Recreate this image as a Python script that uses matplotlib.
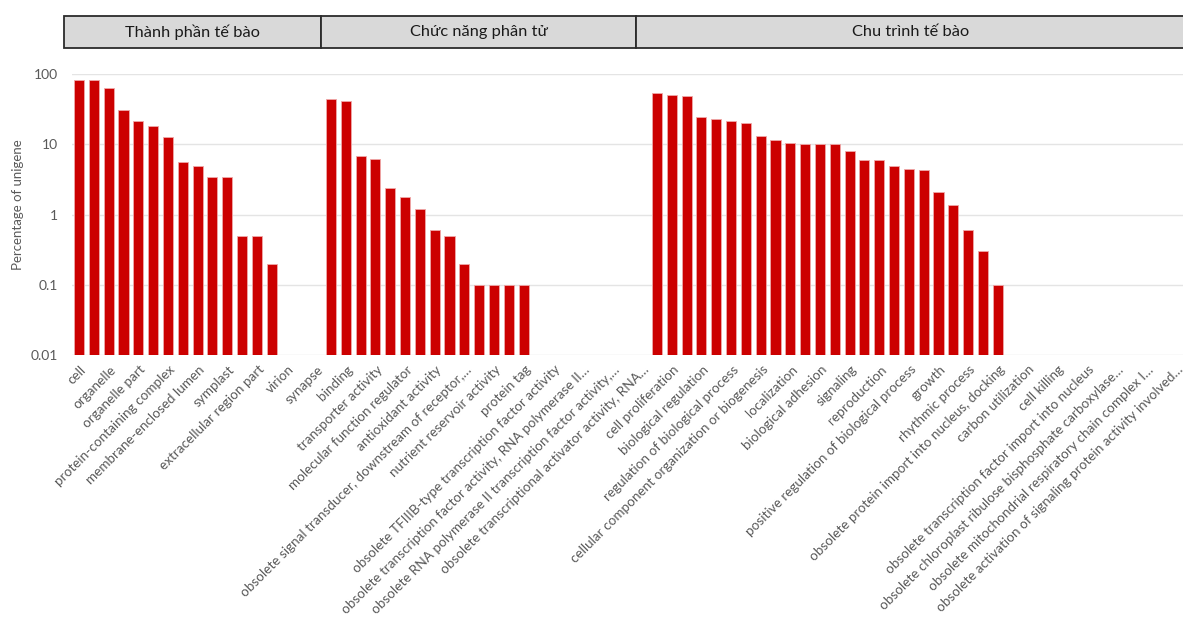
import numpy as np
import matplotlib
matplotlib.use("Agg")
import matplotlib.pyplot as plt
from matplotlib.patches import Rectangle
from matplotlib.ticker import FixedLocator, NullLocator, FuncFormatter
from matplotlib.transforms import blended_transform_factory, ScaledTranslation

plt.rcParams['font.family'] = ['Lato', 'DejaVu Sans']

# GO level-2 categories, grouped by ontology
group_names = ["Thành phần tế bào", "Chức năng phân tử", "Chu trình tế bào"]

cc_terms = [
    "cell", "cell part", "organelle", "membrane", "organelle part",
    "membrane part", "protein-containing complex", "extracellular region",
    "membrane-enclosed lumen", "supramolecular complex", "symplast",
    "cell junction", "extracellular region part", "nucleoid", "virion",
    "virion part", "synapse",
]
cc_values = [82.6, 82.6, 63.6, 30.6, 21.3, 18.1, 12.6, 5.5, 4.9, 3.47, 3.4,
             0.5, 0.5, 0.2, 0, 0, 0]

mf_terms = [
    "catalytic activity", "binding", "structural molecule activity",
    "transporter activity", "transcription regulator activity",
    "molecular function regulator", "signal transducer activity",
    "antioxidant activity", "molecular carrier activity",
    "obsolete signal transducer, downstream of receptor,…",
    "translation regulator activity", "nutrient reservoir activity",
    "toxin activity", "protein tag", "cargo receptor activity",
    "obsolete TFIIIB-type transcription factor activity",
    "molecular transducer activity",
    "obsolete transcription factor activity, RNA polymerase II…",
    "obsolete metallochaperone activity",
    "obsolete RNA polymerase II transcription factor activity,…",
    "obsolete protein binding transcription factor activity",
    "obsolete transcriptional activator activity, RNA…",
]
mf_values = [43.4, 41.1, 6.8, 6.2, 2.4, 1.8, 1.2, 0.6, 0.5, 0.2, 0.1, 0.1,
             0.1, 0.1, 0, 0, 0, 0, 0, 0, 0, 0]

bp_terms = [
    "cellular process", "cell proliferation", "metabolic process",
    "biological regulation", "response to stimulus",
    "regulation of biological process", "developmental process",
    "cellular component organization or biogenesis",
    "multicellular organismal process", "localization",
    "multi-organism process", "biological adhesion",
    "negative regulation of biological process", "signaling",
    "immune system process", "reproduction", "reproductive process",
    "positive regulation of biological process", "locomotion", "growth",
    "detoxification", "rhythmic process", "pigmentation",
    "obsolete protein import into nucleus, docking", "behavior",
    "carbon utilization", "nitrogen utilization", "cell killing",
    "obsolete viral reproduction",
    "obsolete transcription factor import into nucleus",
    "obsolete cell wall organization or biogenesis",
    "obsolete chloroplast ribulose bisphosphate carboxylase…",
    "obsolete single-organism process",
    "obsolete mitochondrial respiratory chain complex I…",
    "obsolete cell aggregation",
    "obsolete activation of signaling protein activity involved…",
]
bp_values = [54, 50.5, 48.9, 24.3, 23, 21.3, 20.2, 12.9, 11.4, 10.4, 10, 10,
             10, 8.05, 6.0, 6.0, 4.9, 4.4, 4.3, 2.1, 1.38, 0.6, 0.3, 0.1,
             0, 0, 0, 0, 0, 0, 0, 0, 0, 0, 0, 0]

terms = cc_terms + mf_terms + bp_terms
values = cc_values + mf_values + bp_values
x = np.arange(len(terms))

W, H = 1183, 618
fig = plt.figure(figsize=(W / 100, H / 100), dpi=100)
ax = fig.add_axes([71.6 / W, 1 - 355 / H, 1 - 71.6 / W, 281 / H])

ax.bar(x, values, width=0.68, color='#CC0000', edgecolor='#EFA8A8',
       linewidth=0.6, zorder=2)
ax.set_yscale('log')
ax.set_ylim(0.01, 100)
ax.set_xlim(-0.5, len(terms) - 0.5)

ax.yaxis.set_major_locator(FixedLocator([0.01, 0.1, 1, 10, 100]))
ax.yaxis.set_minor_locator(NullLocator())
ax.yaxis.set_major_formatter(FuncFormatter(lambda v, _: f"{v:g}"))
ax.grid(axis='y', color='#E4E4E4', linewidth=1.0, zorder=0)
for s in ax.spines.values():
    s.set_visible(False)
ax.tick_params(axis='both', length=0, colors='#595959', labelsize=10)
ax.tick_params(axis='y', pad=10)

# every other category carries a label
ax.set_xticks(x[::2])
ax.set_xticklabels(terms[::2], rotation=45, ha='right', va='top',
                   rotation_mode='anchor', fontsize=9.7, color='#595959')
ax.tick_params(axis='x', pad=6)
shift = ScaledTranslation(0.01, 0, fig.dpi_scale_trans)
for lab in ax.get_xticklabels():
    lab.set_transform(lab.get_transform() + shift)

fig.text(18 / W, 1 - 205 / H, "Percentage of unigene", rotation=90,
         ha='center', va='center', color='#595959', fontsize=9.5)

# ontology header boxes above the plot
trans = blended_transform_factory(ax.transData, fig.transFigure)
edges = [-1.0, 16.33, 37.6, 74.6]
y0, y1 = 1 - 48 / H, 1 - 16 / H
for name, left, right in zip(group_names, edges[:-1], edges[1:]):
    fig.patches.append(Rectangle((left, y0), right - left, y1 - y0,
                                 transform=trans, facecolor='#D9D9D9',
                                 edgecolor='#2B2B2B', linewidth=1.3,
                                 clip_on=False))
    fig.text((left + right) / 2, (y0 + y1) / 2, name, transform=trans,
             ha='center', va='center', fontsize=11.8, color='#1A1A1A')

fig.savefig("out.png", dpi=100)
